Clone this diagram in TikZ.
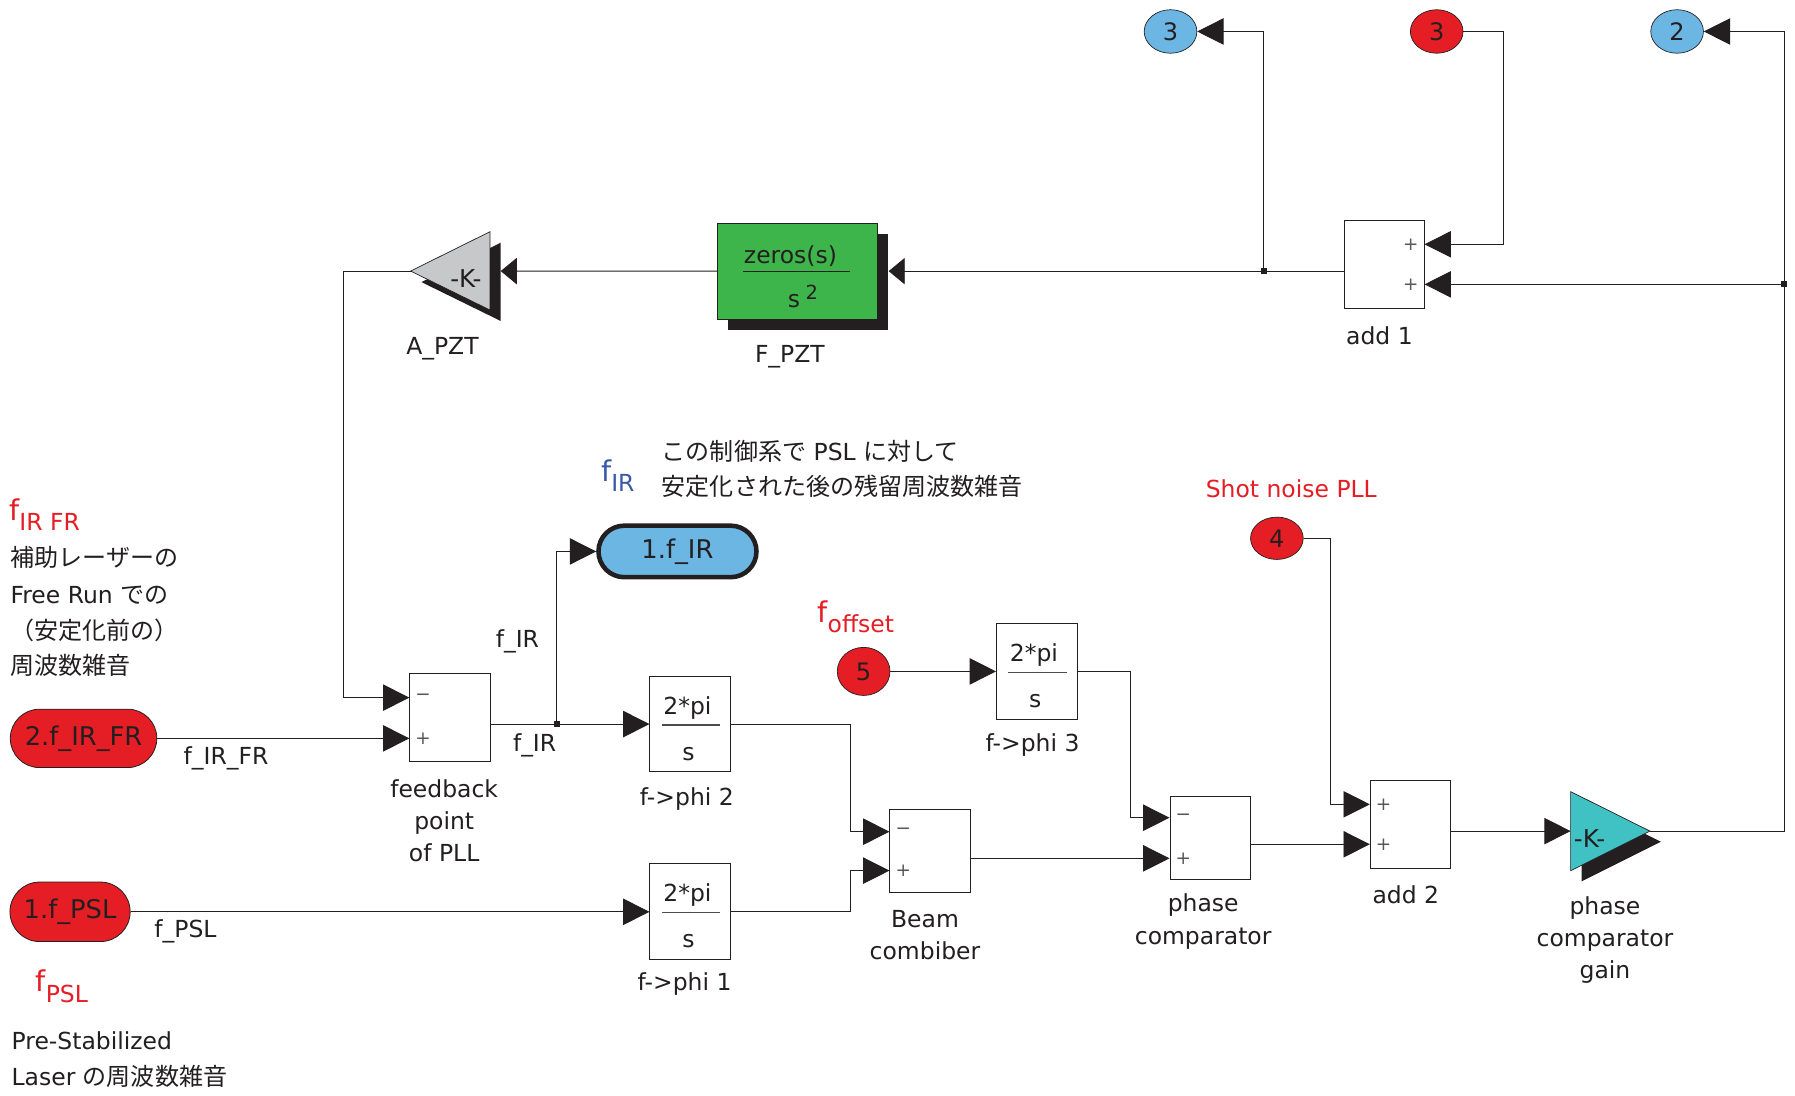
\documentclass[tikz,border=0pt]{standalone}
\usepackage{fontspec}
\setmainfont{DejaVu Sans}
\newfontfamily\jp{Noto Sans CJK JP}
\usetikzlibrary{arrows.meta,shapes.geometric,shapes.misc,calc}
\definecolor{sred}{RGB}{228,30,36}
\definecolor{sblue}{RGB}{108,182,228}
\definecolor{sgreen}{RGB}{62,181,74}
\definecolor{steal}{RGB}{64,193,196}
\definecolor{sgray}{RGB}{199,200,202}
\definecolor{tblue}{RGB}{58,90,168}
\definecolor{ink}{RGB}{35,31,32}
\newcommand{\fsymb}[1]{{\fontsize{25}{25}\selectfont f}\raisebox{-9pt}{\fontsize{20.5}{20.5}\selectfont #1}}
\begin{document}
\begin{tikzpicture}[x=1pt,y=-1pt,
  font=\fontsize{20.5}{28}\selectfont,
  every node/.style={text=ink},
  wire/.style={draw=ink, line width=0.8pt},
  arr/.style={wire,-{Triangle[length=23pt,width=23pt]}},
  arrs/.style={wire,-{Triangle[length=14pt,width=23pt]}},
  blk/.style={draw=ink, line width=0.8pt, fill=white, inner sep=0pt, rectangle},
  ioc/.style={ellipse, draw=ink, line width=0.6pt, minimum width=46pt, minimum height=38pt, inner sep=0pt, font=\fontsize{21}{21}\selectfont},
  pill/.style={rounded rectangle, draw=ink, line width=0.7pt, inner sep=0pt, font=\fontsize{22.5}{22.5}\selectfont},
  sgn/.style={font=\fontsize{16}{16}\selectfont, text=ink!75, inner sep=0pt},
  lbl/.style={align=center, inner sep=0pt},
  tl/.style={anchor=base west, inner sep=0pt},
  kk/.style={font=\fontsize{21.5}{21.5}\selectfont, inner sep=0pt},
]
\fill[white] (0,0) rectangle (1568,957);
\useasboundingbox (0,0) rectangle (1568,957);

% ---------- blocks ----------
\node[blk, minimum width=70pt, minimum height=76.8pt] (add1) at (1209,231) {};
\node[blk, minimum width=70pt, minimum height=76.5pt] (fb) at (393,626.8) {};
\node[blk, minimum width=70.5pt, minimum height=83pt] (phi2) at (603,632.5) {};
\node[blk, minimum width=70.5pt, minimum height=84pt] (phi1) at (603,796.5) {};
\node[blk, minimum width=70.5pt, minimum height=84pt] (phi3) at (905.7,586.5) {};
\node[blk, minimum width=70pt, minimum height=72.3pt] (bc) at (812.4,743.6) {};
\node[blk, minimum width=70pt, minimum height=71.8pt] (pc) at (1057,731.9) {};
\node[blk, minimum width=69.6pt, minimum height=76.8pt] (add2) at (1231.8,720.4) {};

% F_PZT (green) with shadow
\fill[ink] (636.3,204.3) rectangle (776,288.3);
\node[draw=ink, line width=0.6pt, fill=sgreen, minimum width=139.4pt, minimum height=83.7pt, inner sep=0pt] (fpzt) at (696.7,236.85) {};
\node[anchor=base, inner sep=0pt] at (690.5,230.6) {zeros(s)};
\draw[ink, line width=0.9pt] (649,236.8) -- (742.5,236.8);
\node[tl] at (688,269) {s};
\node[tl, font=\fontsize{17}{17}\selectfont] at (703.5,262) {2};

% A_PZT gain (gray, pointing left) with shadow
\begin{scope}[shift={(9.4,9.6)}]
  \fill[ink] (358.7,236.8) -- (428,202.4) -- (428,270.8) -- cycle;
\end{scope}
\filldraw[fill=sgray, draw=ink, line width=0.6pt] (358.7,236.8) -- (428,202.4) -- (428,270.8) -- cycle;
\node[kk] at (407,243.5) {-K-};
\coordinate (apzto) at (358.7,236.8);
\coordinate (apzti) at (437.4,236.8);

% phase comparator gain (teal) with shadow
\begin{scope}[shift={(9.5,9.3)}]
  \fill[ink] (1372,691.5) -- (1441.3,726) -- (1372,760.6) -- cycle;
\end{scope}
\filldraw[fill=steal, draw=ink, line width=0.6pt] (1372,691.5) -- (1441.3,726) -- (1372,760.6) -- cycle;
\node[kk] at (1388.5,732.5) {-K-};
\coordinate (gi) at (1372,726);
\coordinate (go) at (1441.3,726);

% ---------- in/out ports ----------
\node[ioc, fill=sblue] (b3) at (1022.5,27.5) {3};
\node[ioc, fill=sred] (r3) at (1255,27.5) {3};
\node[ioc, fill=sblue] (b2) at (1465,27.5) {2};
\node[ioc, fill=sred, minimum height=37pt] (r4) at (1115.4,470.2) {4};
\node[ioc, fill=sred, minimum height=42pt] (r5) at (754.4,586.5) {5};

\node[pill, fill=sred, minimum width=128pt, minimum height=51pt] (pfr) at (73,645) {2.f\_IR\_FR};
\node[pill, fill=sred, minimum width=105pt, minimum height=52pt] (ppsl) at (61.2,796.5) {1.f\_PSL};
\node[pill, fill=sblue, line width=4pt, minimum width=138pt, minimum height=45pt] (pir) at (591.8,481.7) {1.f\_IR};

% ---------- port coordinates ----------
\coordinate (add1i1) at (add1.east |- 0,213.4);
\coordinate (add1i2) at (add1.east |- 0,248.4);
\coordinate (fpzti) at ($(fpzt.east)+(9.6,0)$);
\coordinate (j1) at (1104,236.85);
\coordinate (j2) at (1558.4,248.4);
\coordinate (fbi1) at (fb.west |- 0,609.4);
\coordinate (fbi2) at (fb.west |- 0,645);
\coordinate (fbo) at (fb.east |- phi2.west);
\coordinate (j3) at (486.5,632.5);
\coordinate (bci1) at (bc.west |- 0,726.5);
\coordinate (bci2) at (bc.west |- 0,760.5);
\coordinate (bco) at (bc.east |- 0,749.8);
\coordinate (pci1) at (pc.west |- 0,714.3);
\coordinate (pci2) at (pc.west |- bco);
\coordinate (pco) at (pc.east |- 0,737.5);
\coordinate (add2i1) at (add2.west |- 0,702.6);
\coordinate (add2i2) at (add2.west |- pco);
\coordinate (add2o) at (add2.east |- gi);

% ---------- connectors ----------
\draw[arr] (j1) |- (b3);
\draw[arr] (r3.east) -- ++(34.6,0) |- (add1i1);
\draw[arr] (go) -| (j2) |- (b2);
\draw[arr] (j2) -- (add1i2);
\draw[arrs] (add1.west |- fpzti) -- (fpzti);
\draw[arrs] (fpzt.west) -- (apzti);
\draw[arr] (apzto) -- ++(-58.5,0) |- (fbi1);
\draw[arr] (pfr.east) -- (fbi2);
\draw[arr] (fbo) -- (phi2.west);
\draw[arr] (j3) |- (pir.west);
\draw[arr] (phi2.east) -- ++(104,0) |- (bci1);
\draw[arr] (ppsl.east) -- (phi1.west);
\draw[arr] (phi1.east) -- ++(104,0) |- (bci2);
\draw[arr] (bco) -- (pci2);
\draw[arr] (r5.east) -- (phi3.west);
\draw[arr] (phi3.east) -- ++(46.3,0) |- (pci1);
\draw[arr] (pco) -- (add2i2);
\draw[arr] (r4.east) -- ++(23.4,0) |- (add2i1);
\draw[arr] (add2o) -- (gi);

\foreach \p in {j1,j2,j3}{
  \fill[ink] ($(\p)+(-2.6,-2.6)$) rectangle ($(\p)+(2.6,2.6)$);
}

% ---------- contents of blocks ----------
\foreach \n in {phi1,phi2,phi3}{
  \node[anchor=base, inner sep=0pt] at ($(\n.center)+(-2.5,-8.7)$) {2*pi};
  \draw[ink!80, line width=0.9pt] ($(\n.center)+(-25,0.8)$) -- ($(\n.center)+(26,0.8)$);
  \node[inner sep=0pt] at ($(\n.center)+(-1.5,26)$) {s};
}
\node[sgn] at ($(add1i1)+(-12,0)$) {+};
\node[sgn] at ($(add1i2)+(-12,0)$) {+};
\node[sgn] at ($(fbi1)+(12,0)$) {−};
\node[sgn] at ($(fbi2)+(12,0)$) {+};
\node[sgn] at ($(bci1)+(12,0)$) {−};
\node[sgn] at ($(bci2)+(12,0)$) {+};
\node[sgn] at ($(pci1)+(12,0)$) {−};
\node[sgn] at ($(pci2)+(12,0)$) {+};
\node[sgn] at ($(add2i1)+(12,0)$) {+};
\node[sgn] at ($(add2i2)+(12,0)$) {+};

% ---------- block labels ----------
\node[lbl] at (386.5,304.3) {A\_PZT};
\node[lbl] at (690,311.5) {F\_PZT};
\node[lbl] at (1205,293) {add 1};
\node[lbl] at (388,717) {feedback\\point\\of PLL};
\node[lbl] at (600,698) {f->phi 2};
\node[lbl] at (598,860) {f->phi 1};
\node[lbl] at (902,651) {f->phi 3};
\node[lbl] at (808,817) {Beam\\combiber};
\node[lbl] at (1051,805) {phase\\comparator};
\node[lbl] at (1228,782) {add 2};
\node[lbl] at (1402,821) {phase\\comparator\\gain};

% ---------- signal labels ----------
\node[inner sep=0pt] at (197.4,662.7) {f\_IR\_FR};
\node[inner sep=0pt] at (162,814) {f\_PSL};
\node[inner sep=0pt] at (452,560) {f\_IR};
\node[inner sep=0pt] at (467,651.5) {f\_IR};

% ---------- annotations ----------
\node[tl, text=sred] at (8,454.3) {\fsymb{IR FR}};
\node[tl] at (9,495) {\jp\fontsize{21}{21}\selectfont 補助レーザーの};
\node[tl] at (9,527) {Free Run {\jp\fontsize{21}{21}\selectfont での}};
\node[tl] at (9,558.5) {\jp\fontsize{21}{21}\selectfont （安定化前の）};
\node[tl] at (9,589) {\jp\fontsize{21}{21}\selectfont 周波数雑音};

\node[tl, text=tblue] at (525,420.7) {\fsymb{IR}};
\node[tl] at (578,402) {{\jp\fontsize{21}{21}\selectfont この制御系で} PSL {\jp\fontsize{21}{21}\selectfont に対して}};
\node[tl] at (578,432.5) {\jp\fontsize{21}{21}\selectfont 安定化された後の残留周波数雑音};

\node[tl, text=sred] at (714,543.5) {\fsymb{offset}};
\node[text=sred, inner sep=0pt] at (1128,427) {Shot noise PLL};

\node[tl, text=sred] at (31,866.3) {\fsymb{PSL}};
\node[tl] at (10,917) {Pre-Stabilized};
\node[tl] at (10,948) {Laser {\jp\fontsize{21}{21}\selectfont の周波数雑音}};
\end{tikzpicture}
\end{document}
